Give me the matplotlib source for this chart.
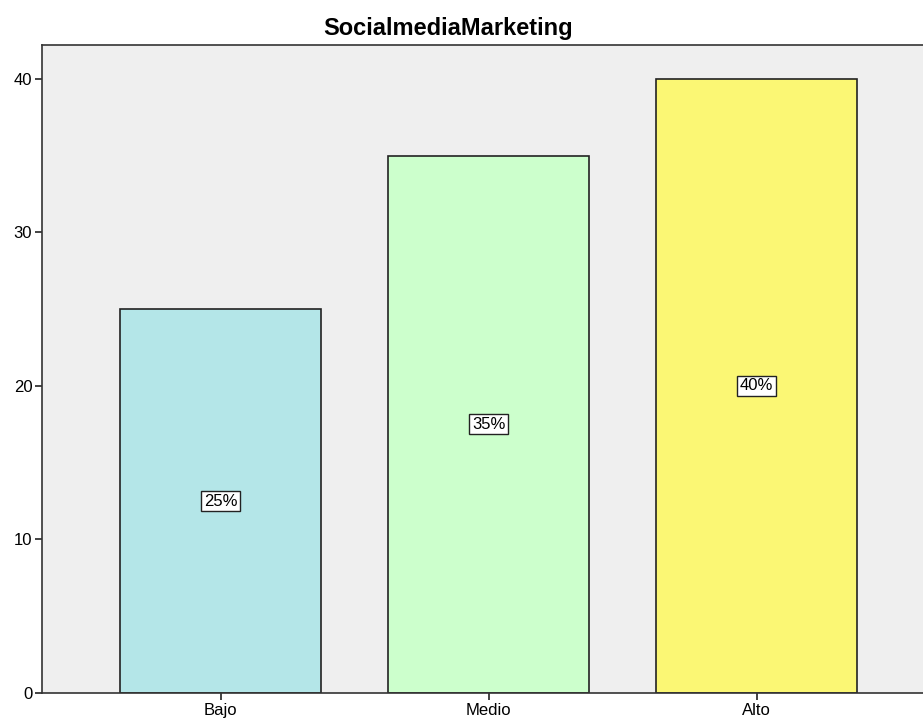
import matplotlib
matplotlib.use("Agg")
import matplotlib.pyplot as plt

# data
categories = ["Bajo", "Medio", "Alto"]
counts = [25, 35, 40]
percent_labels = ["25%", "35%", "40%"]
bar_colors = ["#b4e6e8", "#ccffcc", "#fbf774"]

plt.rcParams['font.family'] = ['Liberation Sans', 'DejaVu Sans']

fig = plt.figure(figsize=(9.23, 7.24), dpi=100)
ax = fig.add_axes([42 / 923, 1 - 693 / 724, (926 - 42) / 923, (693 - 45) / 724])
ax.set_facecolor("#efefef")

x = range(len(categories))
ax.bar(x, counts, width=0.75, color=bar_colors, edgecolor="#222222", linewidth=1.2, zorder=2)

# percentage boxes in the middle of each bar
for i, (c, lab) in enumerate(zip(counts, percent_labels)):
    ax.text(i, c / 2, lab, ha="center", va="center", fontsize=12, zorder=3,
            bbox=dict(boxstyle="square,pad=0.15", facecolor="white", edgecolor="#222222", linewidth=1))

ax.set_xlim(-0.666, 2.621 + 3 / 268)
ax.set_ylim(0, 42.2)
ax.set_xticks(list(x))
ax.set_xticklabels(categories, fontsize=12)
ax.set_yticks([0, 10, 20, 30, 40])
ax.tick_params(axis="y", labelsize=12)
ax.tick_params(axis="both", length=5, width=1.2, colors="#222222", labelcolor="black", pad=2)
for s in ax.spines.values():
    s.set_color("#333333")
    s.set_linewidth(1.2)

fig.text(448 / 923, 1 - 28 / 724, "SocialmediaMarketing", ha="center", va="center",
         fontsize=17, fontweight="bold")

fig.savefig("out.png", dpi=100)
